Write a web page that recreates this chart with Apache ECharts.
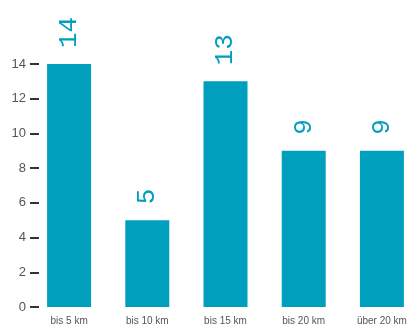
<!DOCTYPE html>
<html>
<head>
<meta charset="utf-8">
<script src="https://cdn.jsdelivr.net/npm/echarts@6/dist/echarts.min.js"></script>
<style>
  html, body { margin: 0; padding: 0; background: #fff; }
  #chart { width: 409px; height: 327px; }
</style>
</head>
<body>
<div id="chart"></div>
<script>
// Distance classes and counts per class
const categories = ['bis 5 km', 'bis 10 km', 'bis 15 km', 'bis 20 km', 'über 20 km'];
const counts = [14, 5, 13, 9, 9];
const yTicks = [0, 2, 4, 6, 8, 10, 12, 14];

const barColor = '#009FBD';

const chart = echarts.init(document.getElementById('chart'), null, { renderer: 'canvas' });
chart.setOption({
  animation: false,
  grid: { left: 30, width: 391, top: 64, bottom: 20, containLabel: false, outerBoundsMode: 'none' },
  xAxis: {
    type: 'category',
    data: categories,
    axisLine: { show: false },
    axisTick: { show: false },
    axisLabel: { color: '#555', fontSize: 10, fontFamily: "'Liberation Sans', Arial, sans-serif", margin: 9 }
  },
  yAxis: {
    type: 'value',
    min: yTicks[0],
    max: yTicks[yTicks.length - 1],
    interval: 2,
    offset: -9,
    splitLine: { show: false },
    axisLine: { show: false },
    axisTick: { show: true, length: 9, lineStyle: { color: '#333', width: 2 } },
    axisLabel: { color: '#555', fontSize: 13, fontFamily: "'Liberation Sans', Arial, sans-serif", margin: 13 }
  },
  series: [{
    type: 'bar',
    data: counts,
    barWidth: 44,
    itemStyle: { color: barColor },
    label: {
      show: true,
      position: 'top',
      rotate: 90,
      align: 'left',
      verticalAlign: 'middle',
      distance: 16,
      color: barColor,
      fontSize: 26,
      fontFamily: "'Liberation Mono', 'Courier New', monospace"
    }
  }]
});
</script>
</body>
</html>
